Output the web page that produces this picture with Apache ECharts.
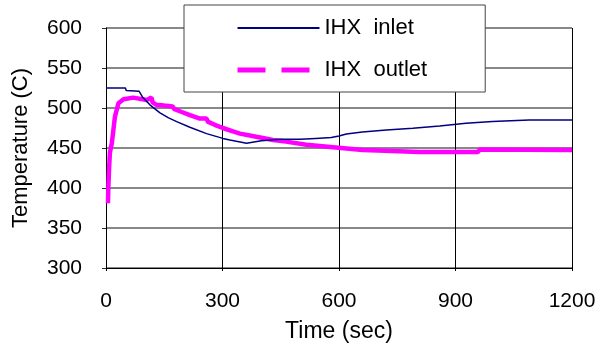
<!DOCTYPE html>
<html>
<head>
<meta charset="utf-8">
<script src="https://cdn.jsdelivr.net/npm/echarts@6/dist/echarts.min.js"></script>
<style>
  html, body { margin: 0; padding: 0; background: #fff; }
  #chart { width: 603px; height: 354px; }
</style>
</head>
<body>
<div id="chart"></div>
<script>
// IHX inlet
const inletTime = [0, 50, 52, 85, 95, 113, 139, 160, 182, 216, 259, 301, 319, 362, 400, 450, 500, 540, 580, 600, 619, 660, 722, 790, 859, 927, 995, 1090, 1200]
const inletTemp = [525, 525, 522, 521, 513, 504, 494, 488, 483, 476, 468, 462, 460, 456, 459, 461, 461, 462, 463, 465, 467.5, 470, 472.5, 474.6, 477.5, 481, 483, 485, 485]

// IHX outlet
const outletTime = [5, 6, 8, 10, 15, 23, 32, 45, 70, 105, 117, 120, 130, 150, 172, 175, 195, 216, 240, 259, 262, 280, 301, 325, 345, 387, 430, 464, 516, 585, 661, 700, 807, 958, 962, 1200]
const outletTemp = [381, 400, 425, 444, 456, 489, 506, 511, 513, 510, 513, 507, 504, 503, 502, 499, 495, 491, 487, 487, 483, 479, 475, 471, 468, 464, 460, 458, 454, 451, 447.5, 447, 445, 445, 448, 447.5]

const seriesNames = ['IHX inlet', 'IHX outlet']
const xTicks = {min: 0, max: 1200, interval: 300}
const yTicks = {min: 300, max: 600, interval: 50}

const font = 'Liberation Sans, Arial, sans-serif'
const pairs = (t, v) => t.map((x, i) => [x, v[i]])

const chart = echarts.init(document.getElementById('chart'))
chart.setOption({
  animation: false,
  grid: {left: 106, top: 28, right: 31, bottom: 86},
  legend: {
    orient: 'vertical',
    left: 184,
    top: 5,
    padding: [12, 58, 11, 51],
    itemWidth: 82,
    itemHeight: 14,
    itemGap: 20,
    backgroundColor: '#fff',
    borderColor: '#444',
    borderWidth: 1,
    // hide the dot that line series put in the legend icon
    itemStyle: {opacity: 0},
    textStyle: {fontFamily: font, fontSize: 22, color: '#000'},
    // the original spreads the words a little
    formatter: name => name.replace(' ', '  '),
    data: [
      {name: seriesNames[0]},
      {name: seriesNames[1], lineStyle: {type: [28, 16], width: 5}}
    ]
  },
  xAxis: {
    type: 'value',
    min: xTicks.min, max: xTicks.max, interval: xTicks.interval,
    name: 'Time (sec)',
    nameLocation: 'middle',
    nameGap: 52,
    nameTextStyle: {fontFamily: font, fontSize: 23, color: '#000'},
    axisLine: {lineStyle: {color: '#000', width: 1}},
    axisTick: {show: true, length: 3, lineStyle: {color: '#000'}},
    axisLabel: {fontFamily: font, fontSize: 21, color: '#000', margin: 23, formatter: v => String(v)},
    splitLine: {show: true, lineStyle: {color: '#000', width: 1}}
  },
  yAxis: {
    type: 'value',
    min: yTicks.min, max: yTicks.max, interval: yTicks.interval,
    name: 'Temperature (C)',
    nameLocation: 'middle',
    nameGap: 74,
    nameTextStyle: {fontFamily: font, fontSize: 22, color: '#000'},
    axisLine: {show: true, lineStyle: {color: '#000', width: 1}},
    axisTick: {show: true, length: 4, lineStyle: {color: '#333'}},
    axisLabel: {fontFamily: font, fontSize: 21, color: '#000', margin: 24},
    splitLine: {show: true, lineStyle: {color: '#888', width: 2}}
  },
  series: [
    {
      name: seriesNames[0],
      type: 'line',
      symbol: 'none',
      z: 3,
      lineStyle: {color: '#000080', width: 1.5},
      itemStyle: {color: '#000080'},
      data: pairs(inletTime, inletTemp)
    },
    {
      name: seriesNames[1],
      type: 'line',
      symbol: 'none',
      z: 2,
      lineStyle: {color: '#ff00ff', width: 4.5},
      itemStyle: {color: '#ff00ff'},
      data: pairs(outletTime, outletTemp)
    }
  ]
})
</script>
</body>
</html>
